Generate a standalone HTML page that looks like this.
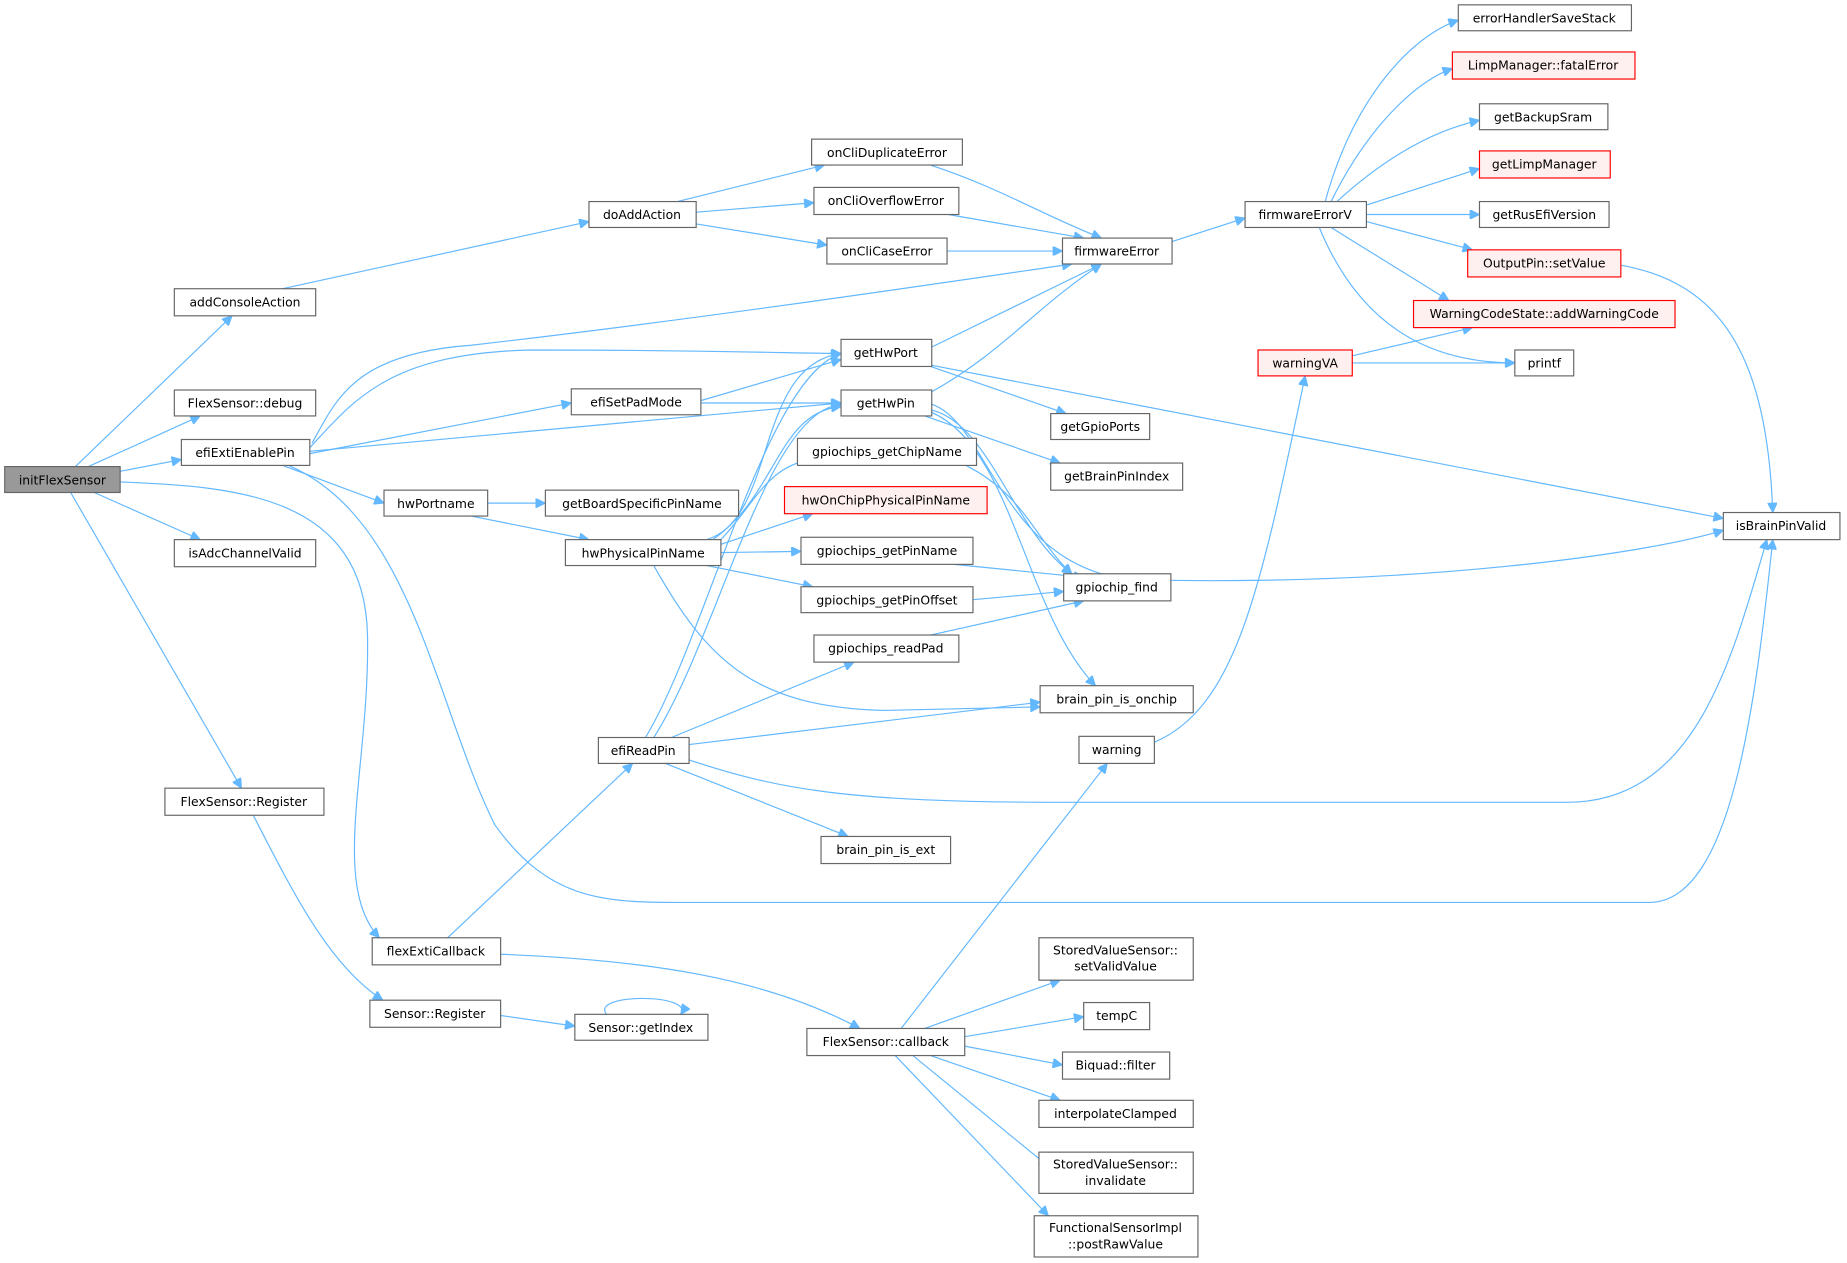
<!DOCTYPE html>
<html><head><meta charset="utf-8"><style>
html,body{margin:0;padding:0;background:#fff}
svg{display:block}
text{font-family:"DejaVu Sans","Liberation Sans",sans-serif;font-size:10.5px;fill:#000}
.n{fill:#fff;stroke:#666;stroke-width:1}
.r{fill:#fff0f0;stroke:#f00;stroke-width:1}
.g{fill:#999;stroke:#666;stroke-width:1}
path{fill:none;stroke:#63b8ff;stroke-width:1;marker-end:url(#a)}
</style></head><body>
<svg width="1847" height="1263" viewBox="0 0 1568 1072" xmlns="http://www.w3.org/2000/svg">
<defs><marker id="a" viewBox="0 0 10 10" refX="10" refY="5" markerWidth="10" markerHeight="8" orient="auto" markerUnits="userSpaceOnUse"><path d="M0,0 L10,5 L0,10 z" style="fill:#63b8ff;stroke:#63b8ff;marker-end:none"/></marker></defs>
<g>
<path d="M64,396 L197,268"/>
<path d="M75,396 L170,353"/>
<path d="M102,400 L154,390"/>
<path d="M80,418 L170,458"/>
<path d="M60,418 L205,669"/>
<path d="M102,409 C200,413 310,420 312,540 C314,650 280,750 322,796"/>
<path d="M240,245 L500,188"/>
<path d="M575,171 L700,140"/>
<path d="M591,180 L691,172"/>
<path d="M591,190 L702,208"/>
<path d="M790,140 C850,160 880,180 935,202"/>
<path d="M805,182 L920,202"/>
<path d="M804,213 L902,213"/>
<path d="M995,205 L1057,185"/>
<path d="M265,376 C285,340 300,300 400,293 C600,270 800,240 910,224"/>
<path d="M263,380 C300,340 330,300 450,297 C600,297 680,300 714,300"/>
<path d="M263,385 L485,342"/>
<path d="M263,383 L714,342"/>
<path d="M240,395 L326,427"/>
<path d="M245,395 C350,440 370,600 420,700 C470,770 520,766 600,766 L1400,766 C1470,766 1490,600 1505,458"/>
<path d="M414,427 L463,427"/>
<path d="M400,438 L500,458"/>
<path d="M595,340 L714,305"/>
<path d="M595,342 L714,342"/>
<path d="M600,458 C660,440 640,310 714,300"/>
<path d="M605,458 C660,420 660,350 714,345"/>
<path d="M610,460 C640,430 650,395 690,390"/>
<path d="M612,462 L690,436"/>
<path d="M612,469 L680,468"/>
<path d="M600,480 L690,498"/>
<path d="M555,480 C600,560 640,600 750,603 L883,600"/>
<path d="M548,626 C600,540 650,320 714,300"/>
<path d="M555,626 C610,540 650,350 714,343"/>
<path d="M570,626 L725,562"/>
<path d="M585,632 L883,596"/>
<path d="M585,645 C660,670 720,681 900,681 L1330,681 C1440,681 1470,560 1500,458"/>
<path d="M565,648 L720,710"/>
<path d="M380,796 L537,648"/>
<path d="M425,810 C550,815 650,830 730,873"/>
<path d="M215,692 C250,760 280,820 325,849"/>
<path d="M425,862 L488,871"/>
<path d="M515,861 C500,843 590,843 578,861"/>
<path d="M790,295 L935,224"/>
<path d="M790,311 L905,351"/>
<path d="M791,310 L1463,440"/>
<path d="M790,333 C850,300 880,260 935,224"/>
<path d="M785,353 L900,393"/>
<path d="M791,348 C840,360 860,450 910,487"/>
<path d="M791,350 C860,380 870,520 930,582"/>
<path d="M791,343 C840,360 850,480 960,492 C1200,498 1400,470 1463,450"/>
<path d="M820,395 C870,420 880,460 910,487"/>
<path d="M810,479 L920,490"/>
<path d="M826,509 L903,502"/>
<path d="M790,539 L920,510"/>
<path d="M765,873 L940,648"/>
<path d="M785,873 L900,832"/>
<path d="M819,880 L920,863"/>
<path d="M819,888 L902,904"/>
<path d="M790,896 L900,934"/>
<path d="M775,896 L890,990"/>
<path d="M760,896 L890,1032"/>
<path d="M980,630 C1050,600 1070,500 1108,319"/>
<path d="M1148,302 L1250,278"/>
<path d="M1148,308 L1286,308"/>
<path d="M1125,171 C1150,80 1200,30 1238,17"/>
<path d="M1130,171 C1160,110 1200,70 1233,58"/>
<path d="M1135,171 C1180,130 1220,110 1256,102"/>
<path d="M1160,174 L1256,143"/>
<path d="M1160,182 L1256,182"/>
<path d="M1160,188 L1250,212"/>
<path d="M1130,193 L1230,255"/>
<path d="M1120,193 C1160,290 1230,308 1286,308"/>
<path d="M1376,225 C1460,240 1500,300 1505,435"/>
</g>
<g text-anchor="middle">
<rect class="g" x="4" y="396" width="98" height="22"/><text x="53" y="411">initFlexSensor</text>
<rect class="n" x="148" y="245" width="120" height="23"/><text x="208" y="260">addConsoleAction</text>
<rect class="n" x="148" y="331" width="120" height="22"/><text x="208" y="346">FlexSensor::debug</text>
<rect class="n" x="154" y="373" width="109" height="22"/><text x="208" y="388">efiExtiEnablePin</text>
<rect class="n" x="148" y="458" width="120" height="23"/><text x="208" y="473">isAdcChannelValid</text>
<rect class="n" x="140" y="669" width="135" height="23"/><text x="207" y="684">FlexSensor::Register</text>
<rect class="n" x="316" y="796" width="109" height="23"/><text x="370" y="811">flexExtiCallback</text>
<rect class="n" x="314" y="849" width="111" height="23"/><text x="369" y="864">Sensor::Register</text>
<rect class="n" x="488" y="861" width="113" height="22"/><text x="544" y="876">Sensor::getIndex</text>
<rect class="n" x="326" y="416" width="88" height="22"/><text x="370" y="431">hwPortname</text>
<rect class="n" x="500" y="171" width="91" height="22"/><text x="545" y="186">doAddAction</text>
<rect class="n" x="485" y="330" width="110" height="22"/><text x="540" y="345">efiSetPadMode</text>
<rect class="n" x="480" y="458" width="132" height="22"/><text x="546" y="473">hwPhysicalPinName</text>
<rect class="n" x="508" y="626" width="77" height="22"/><text x="546" y="641">efiReadPin</text>
<rect class="n" x="463" y="416" width="164" height="22"/><text x="545" y="431">getBoardSpecificPinName</text>
<rect class="n" x="689" y="118" width="128" height="22"/><text x="753" y="133">onCliDuplicateError</text>
<rect class="n" x="691" y="159" width="123" height="23"/><text x="752" y="174">onCliOverflowError</text>
<rect class="n" x="702" y="202" width="102" height="22"/><text x="753" y="217">onCliCaseError</text>
<rect class="n" x="714" y="288" width="77" height="23"/><text x="752" y="303">getHwPort</text>
<rect class="n" x="714" y="331" width="77" height="22"/><text x="752" y="346">getHwPin</text>
<rect class="n" x="677" y="372" width="152" height="23"/><text x="753" y="387">gpiochips_getChipName</text>
<rect class="r" x="666" y="413" width="172" height="23"/><text x="752" y="428">hwOnChipPhysicalPinName</text>
<rect class="n" x="680" y="456" width="146" height="23"/><text x="753" y="471">gpiochips_getPinName</text>
<rect class="n" x="680" y="498" width="146" height="22"/><text x="753" y="513">gpiochips_getPinOffset</text>
<rect class="n" x="691" y="539" width="123" height="23"/><text x="752" y="554">gpiochips_readPad</text>
<rect class="n" x="697" y="710" width="110" height="23"/><text x="752" y="725">brain_pin_is_ext</text>
<rect class="n" x="685" y="873" width="134" height="23"/><text x="752" y="888">FlexSensor::callback</text>
<rect class="n" x="902" y="202" width="93" height="22"/><text x="948" y="217">firmwareError</text>
<rect class="n" x="892" y="351" width="84" height="22"/><text x="934" y="366">getGpioPorts</text>
<rect class="n" x="892" y="393" width="112" height="23"/><text x="948" y="408">getBrainPinIndex</text>
<rect class="n" x="903" y="487" width="91" height="23"/><text x="948" y="502">gpiochip_find</text>
<rect class="n" x="883" y="582" width="130" height="23"/><text x="948" y="597">brain_pin_is_onchip</text>
<rect class="n" x="916" y="625" width="64" height="23"/><text x="948" y="640">warning</text>
<rect class="n" x="882" y="796" width="131" height="36"/><text x="947" y="810">StoredValueSensor::</text><text x="947" y="824">setValidValue</text>
<rect class="n" x="920" y="851" width="56" height="23"/><text x="948" y="866">tempC</text>
<rect class="n" x="902" y="893" width="91" height="23"/><text x="947" y="908">Biquad::filter</text>
<rect class="n" x="882" y="934" width="131" height="23"/><text x="947" y="949">interpolateClamped</text>
<rect class="n" x="882" y="978" width="131" height="35"/><text x="947" y="992">StoredValueSensor::</text><text x="947" y="1006">invalidate</text>
<rect class="n" x="878" y="1032" width="139" height="35"/><text x="947" y="1046">FunctionalSensorImpl</text><text x="947" y="1060">::postRawValue</text>
<rect class="n" x="1057" y="171" width="103" height="22"/><text x="1108" y="186">firmwareErrorV</text>
<rect class="r" x="1068" y="297" width="80" height="22"/><text x="1108" y="312">warningVA</text>
<rect class="n" x="1238" y="4" width="147" height="22"/><text x="1311" y="19">errorHandlerSaveStack</text>
<rect class="r" x="1233" y="44" width="155" height="23"/><text x="1310" y="59">LimpManager::fatalError</text>
<rect class="n" x="1256" y="88" width="109" height="22"/><text x="1310" y="103">getBackupSram</text>
<rect class="r" x="1256" y="128" width="111" height="23"/><text x="1311" y="143">getLimpManager</text>
<rect class="n" x="1256" y="171" width="110" height="22"/><text x="1311" y="186">getRusEfiVersion</text>
<rect class="r" x="1246" y="212" width="130" height="23"/><text x="1311" y="227">OutputPin::setValue</text>
<rect class="r" x="1200" y="255" width="222" height="23"/><text x="1311" y="270">WarningCodeState::addWarningCode</text>
<rect class="n" x="1286" y="297" width="50" height="22"/><text x="1311" y="312">printf</text>
<rect class="n" x="1463" y="435" width="99" height="23"/><text x="1512" y="450">isBrainPinValid</text>
</g>
</svg>
</body></html>
